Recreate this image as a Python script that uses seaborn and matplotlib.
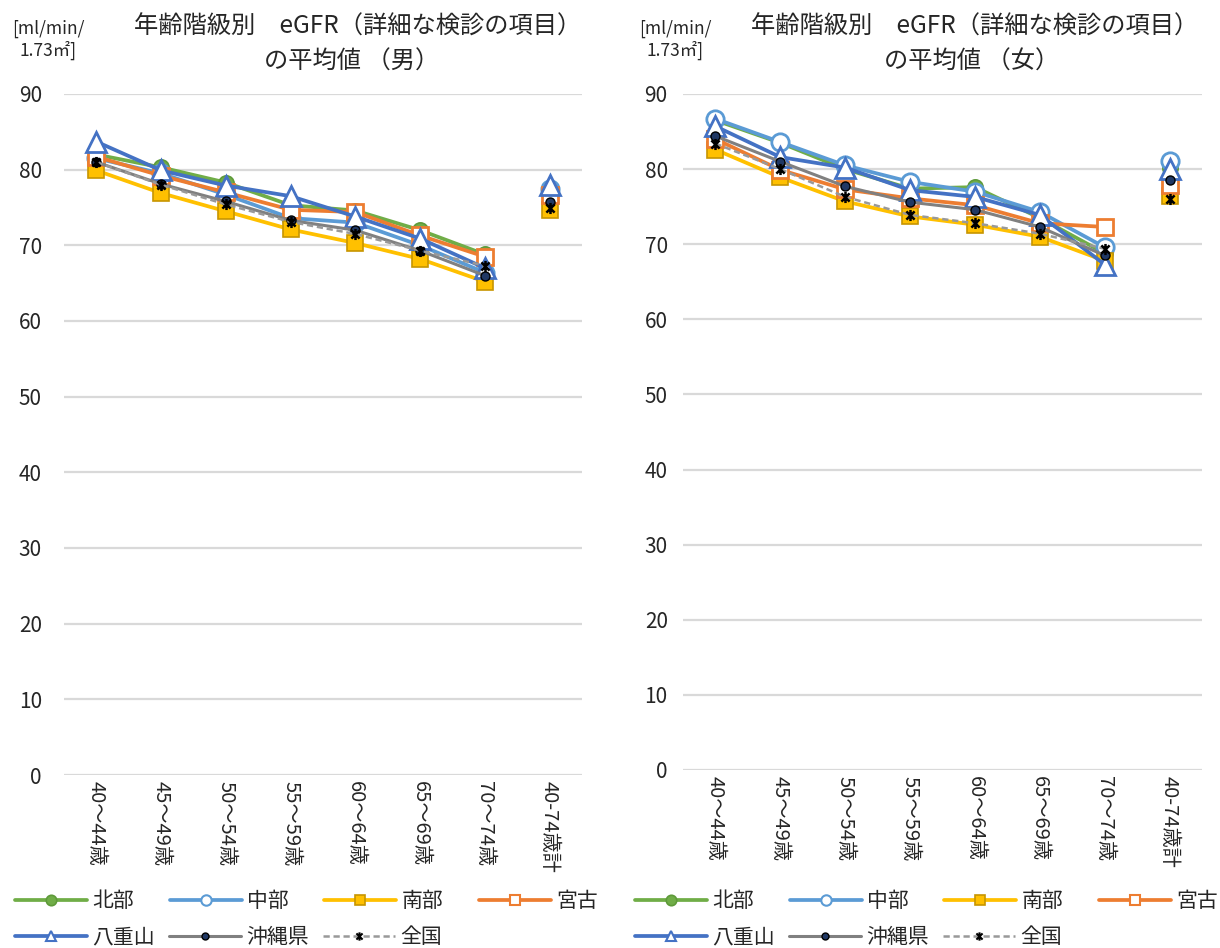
import numpy as np
import matplotlib
matplotlib.use("Agg")
import matplotlib.pyplot as plt
import seaborn as sns
from matplotlib.path import Path
from matplotlib.markers import MarkerStyle
from matplotlib.lines import Line2D

# ---------------- data ----------------
categories = ["40～44歳", "45～49歳", "50～54歳", "55～59歳", "60～64歳",
              "65～69歳", "70～74歳", "40-74歳計"]
regions = ["北部", "中部", "南部", "宮古", "八重山", "沖縄県", "全国"]

male_hokubu = [82.0, 80.3, 78.3, 75.3, 74.6, 72.0, 68.8, 77.6]
male_chubu = [81.5, 79.5, 76.7, 73.6, 73.0, 70.0, 66.4, 77.4]
male_nanbu = [79.9, 76.9, 74.5, 72.1, 70.3, 68.2, 65.2, 74.7]
male_miyako = [81.7, 79.2, 77.0, 74.7, 74.4, 71.3, 68.5, 76.6]
male_yaeyama = [83.7, 79.9, 77.9, 76.5, 73.8, 70.9, 67.0, 78.0]
male_okinawa = [81.0, 78.1, 75.8, 73.3, 72.0, 69.3, 66.0, 75.7]
male_zenkoku = [81.0, 78.0, 75.4, 73.1, 71.5, 69.3, 67.3, 74.9]

female_hokubu = [86.5, 83.5, 80.0, 77.4, 77.6, 73.5, 68.8, 80.1]
female_chubu = [86.7, 83.6, 80.5, 78.3, 77.0, 74.3, 69.6, 81.1]
female_nanbu = [82.6, 78.9, 75.7, 73.7, 72.6, 71.0, 67.8, 76.4]
female_miyako = [84.0, 79.9, 77.3, 76.1, 75.2, 72.8, 72.3, 77.9]
female_yaeyama = [85.7, 81.6, 80.2, 77.2, 76.3, 73.9, 67.3, 80.0]
female_okinawa = [84.4, 81.0, 77.7, 75.6, 74.6, 72.3, 68.5, 78.6]
female_zenkoku = [83.4, 80.0, 76.3, 73.9, 72.8, 71.4, 69.4, 76.0]

male_title = "年齢階級別　eGFR（詳細な検診の項目）"
female_title = "年齢階級別　eGFR（詳細な検診の項目）"
male_sub = "の平均値 （男）"
female_sub = "の平均値 （女）"
unit_label = "[ml/min/\n1.73㎡]"
y_ticks = [0, 10, 20, 30, 40, 50, 60, 70, 80, 90]

male = dict(zip(regions, [male_hokubu, male_chubu, male_nanbu, male_miyako,
                          male_yaeyama, male_okinawa, male_zenkoku]))
female = dict(zip(regions, [female_hokubu, female_chubu, female_nanbu, female_miyako,
                            female_yaeyama, female_okinawa, female_zenkoku]))

# ---------------- style ----------------
sns.set_style("white")
FONT = ["Noto Sans CJK JP", "DejaVu Sans"]
plt.rcParams["font.family"] = FONT
plt.rcParams["axes.unicode_minus"] = False

star_path = Path([(-1, -1), (1, 1), (-1, 1), (1, -1), (0, -1.35), (0, 1.35)],
                 [Path.MOVETO, Path.LINETO, Path.MOVETO, Path.LINETO,
                  Path.MOVETO, Path.LINETO])
star = MarkerStyle(star_path)

styles = {
    "北部": dict(color="#70AD47", lw=2.7, ls="-", marker="o", ms=11,
               mfc="#70AD47", mec="#5E9A3A", mew=1.2, lms=7.5),
    "中部": dict(color="#5B9BD5", lw=2.7, ls="-", marker="o", ms=12.5,
               mfc="white", mec="#5B9BD5", mew=2.0, lms=7.5),
    "南部": dict(color="#FFC000", lw=2.7, ls="-", marker="s", ms=11.5,
               mfc="#FFC000", mec="#C79500", mew=1.2, lms=7),
    "宮古": dict(color="#ED7D31", lw=2.7, ls="-", marker="s", ms=11.5,
               mfc="white", mec="#ED7D31", mew=2.0, lms=7),
    "八重山": dict(color="#4472C4", lw=2.7, ls="-", marker="^", ms=14,
                mfc="white", mec="#4472C4", mew=2.0, lms=7.5),
    "沖縄県": dict(color="#808080", lw=2.2, ls="-", marker="o", ms=6.5,
                mfc="#203864", mec="black", mew=1.0, lms=5),
    "全国": dict(color="#999999", lw=1.8, ls=(0, (2.5, 1.5)), marker=star, ms=8,
               mfc="black", mec="black", mew=1.8, lms=6),
}

W, H = 1220, 948
fig = plt.figure(figsize=(W / 100, H / 100), dpi=100)


def fx(px):
    return px / W


def fy(py):
    return 1 - py / H


def draw(ax, data, ypad):
    x = np.arange(len(categories))
    n = len(categories) - 1
    for name in regions:
        vals = np.array(data[name], dtype=float)
        st = styles[name]
        common = dict(marker=st["marker"], markersize=st["ms"],
                      markerfacecolor=st["mfc"], markeredgecolor=st["mec"],
                      markeredgewidth=st["mew"], color=st["color"])
        sns.lineplot(x=x[:n], y=vals[:n], ax=ax, linewidth=st["lw"],
                     linestyle=st["ls"], estimator=None, sort=False, **common)
        sns.lineplot(x=x[n:], y=vals[n:], ax=ax, linewidth=0,
                     linestyle="", estimator=None, sort=False, **common)
    ax.set_xlim(-0.5, len(categories) - 0.5)
    ax.set_ylim(0, 90)
    ax.set_yticks(y_ticks)
    ax.set_xticks(x)
    ax.set_xticklabels(categories, rotation=-90, fontsize=14.5, va="top", ha="center")
    ax.tick_params(axis="x", length=0, pad=4)
    ax.tick_params(axis="y", length=0, pad=ypad, labelsize=15)
    ax.yaxis.grid(True, color="#D9D9D9", linewidth=1.6)
    ax.xaxis.grid(False)
    ax.set_axisbelow(True)
    for s in ax.spines.values():
        s.set_visible(False)
    ax.set_xlabel("")
    ax.set_ylabel("")
    leg = ax.get_legend()
    if leg is not None:
        leg.remove()


def handle(name):
    st = styles[name]
    return Line2D([], [], color=st["color"], lw=st["lw"], ls=st["ls"],
                  marker=st["marker"], markersize=st["lms"],
                  markerfacecolor=st["mfc"], markeredgecolor=st["mec"],
                  markeredgewidth=min(st["mew"], 1.5))


def legends(x0):
    row1 = regions[:4]
    row2 = regions[4:]
    common = dict(frameon=False, fontsize=15, handlelength=3.45, handletextpad=0.25,
                  borderpad=0, borderaxespad=0, loc="center left")
    l1 = fig.legend([handle(n) for n in row1], row1, ncol=4, columnspacing=1.72,
                    bbox_to_anchor=(fx(x0), fy(901)), **common)
    l2 = fig.legend([handle(n) for n in row2], row2, ncol=3, columnspacing=0.68,
                    bbox_to_anchor=(fx(x0), fy(937)), **common)
    return l1, l2


# left (male)
axL = fig.add_axes([fx(64), fy(775), fx(582 - 64), (775 - 94) / H])
draw(axL, male, ypad=16)
# right (female)
axR = fig.add_axes([fx(683), fy(770), fx(1202 - 683), (770 - 94) / H])
draw(axR, female, ypad=11)

# titles
fig.text(fx(358), fy(27), male_title, ha="center", va="center", fontsize=17.5)
fig.text(fx(352), fy(62), male_sub, ha="center", va="center", fontsize=17.5)
fig.text(fx(975), fy(27), female_title, ha="center", va="center", fontsize=17.5)
fig.text(fx(972), fy(62), female_sub, ha="center", va="center", fontsize=17.5)

# unit labels
fig.text(fx(48), fy(40), unit_label, ha="center", va="center", fontsize=12.5,
         linespacing=1.2)
fig.text(fx(675), fy(40), unit_label, ha="center", va="center", fontsize=12.5,
         linespacing=1.2)

legends(15)
legends(635)

fig.savefig("out.png", dpi=100)
